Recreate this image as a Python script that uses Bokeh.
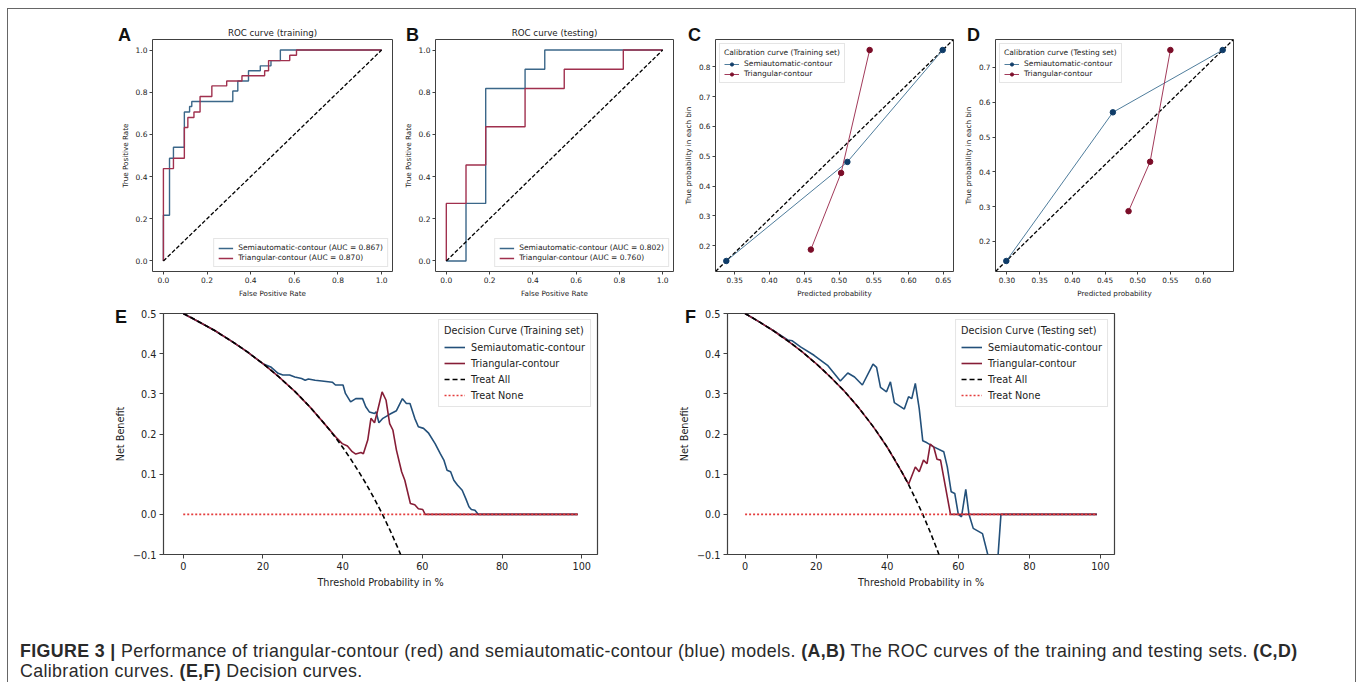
from bokeh.plotting import figure
from bokeh.layouts import row, column
from bokeh.models import Range1d, FixedTicker, Legend, LegendItem, Div
from bokeh.embed import file_html
from bokeh.resources import INLINE

# ---------------- data ----------------
model_names = ["Semiautomatic-contour", "Triangular-contour"]

# ROC, training set (A)
roc_train_semi_fpr = [0, 0, 0.028, 0.028, 0.046, 0.046, 0.096, 0.096, 0.12, 0.12, 0.13, 0.13,
                      0.318, 0.318, 0.341, 0.341, 0.39, 0.39, 0.444, 0.444, 0.493, 0.493, 0.536, 0.536, 1.0]
roc_train_semi_tpr = [0, 0.217, 0.217, 0.487, 0.487, 0.539, 0.539, 0.706, 0.706, 0.732, 0.732, 0.756,
                      0.756, 0.806, 0.806, 0.853, 0.853, 0.902, 0.902, 0.925, 0.925, 0.95, 0.95, 1.0, 1.0]
roc_train_tri_fpr = [0, 0, 0.046, 0.046, 0.096, 0.096, 0.112, 0.112, 0.14, 0.14, 0.168, 0.168, 0.222, 0.222,
                     0.29, 0.29, 0.36, 0.36, 0.464, 0.464, 0.482, 0.482, 0.579, 0.579, 0.61, 0.61, 1.0]
roc_train_tri_tpr = [0, 0.438, 0.438, 0.487, 0.487, 0.633, 0.633, 0.68, 0.68, 0.706, 0.706, 0.78, 0.78, 0.83,
                     0.83, 0.853, 0.853, 0.878, 0.878, 0.902, 0.902, 0.95, 0.95, 0.975, 0.975, 1.0, 1.0]
auc_train = [0.867, 0.870]

# ROC, testing set (B)
roc_test_semi_fpr = [0, 0.091, 0.091, 0.182, 0.182, 0.364, 0.364, 0.455, 0.455, 1.0]
roc_test_semi_tpr = [0, 0, 0.273, 0.273, 0.818, 0.818, 0.909, 0.909, 1.0, 1.0]
roc_test_tri_fpr = [0, 0, 0.091, 0.091, 0.182, 0.182, 0.364, 0.364, 0.545, 0.545, 0.818, 0.818, 1.0]
roc_test_tri_tpr = [0, 0.273, 0.273, 0.455, 0.455, 0.636, 0.636, 0.818, 0.818, 0.909, 0.909, 1.0, 1.0]
auc_test = [0.802, 0.760]

# Calibration curves (C training, D testing)
cal_train_semi_x = [0.338, 0.512, 0.649]
cal_train_semi_y = [0.149, 0.481, 0.856]
cal_train_tri_x = [0.4595, 0.503, 0.544]
cal_train_tri_y = [0.187, 0.444, 0.856]
cal_test_semi_x = [0.299, 0.462, 0.630]
cal_test_semi_y = [0.144, 0.571, 0.750]
cal_test_tri_x = [0.486, 0.519, 0.550]
cal_test_tri_y = [0.287, 0.429, 0.750]

# Decision curves (threshold %, net benefit)
treat_all_thr = [0, 2, 4, 6, 8, 10, 12, 14, 16, 18, 20, 22, 24, 26, 28, 30, 32, 34, 36, 38, 40,
                 42, 44, 46, 48, 50, 52, 54, 55]
treat_all_nb = [0.5, 0.49, 0.479, 0.468, 0.457, 0.444, 0.432, 0.419, 0.405, 0.39, 0.375, 0.359, 0.342,
                0.324, 0.306, 0.286, 0.265, 0.242, 0.219, 0.194, 0.167, 0.138, 0.107, 0.074, 0.038, 0.0,
                -0.042, -0.087, -0.111]
treat_none_thr = [0, 99]
treat_none_nb = [0.0, 0.0]

dca_train_semi_thr = [0, 4, 8, 12, 16, 20, 22.1, 23.8, 25.0, 26.7, 28.0, 29.7, 30.6, 31.4, 33.1, 34.8,
                      37.4, 38.2, 40.1, 40.7, 42.0, 43.3, 45.0, 45.8, 46.7, 48.0, 48.4, 49.1, 50.1, 51.8,
                      53.5, 55.0, 56.0, 56.9, 58.1, 59.0, 60.3, 61.5, 63.2, 64.5, 65.4, 66.2, 67.1, 67.9,
                      68.8, 70.0, 70.9, 71.7, 72.3, 73.2, 74.0, 99]
dca_train_semi_nb = [0.5, 0.479, 0.457, 0.432, 0.405, 0.375, 0.366, 0.351, 0.347, 0.347, 0.342, 0.338,
                     0.334, 0.337, 0.334, 0.332, 0.329, 0.322, 0.322, 0.301, 0.28, 0.288, 0.288, 0.268,
                     0.255, 0.251, 0.255, 0.228, 0.239, 0.249, 0.258, 0.288, 0.276, 0.276, 0.239, 0.218,
                     0.214, 0.203, 0.176, 0.151, 0.135, 0.11, 0.106, 0.085, 0.073, 0.06, 0.039, 0.019,
                     0.012, 0.01, 0.0, 0.0]
dca_train_tri_thr = [0, 4, 8, 12, 16, 20, 24, 28, 32, 36, 38.6, 39.9, 41.2, 42.4, 43.3, 44.6, 45.2, 46.3,
                     47.1, 48.0, 48.8, 49.9, 50.9, 51.8, 52.6, 53.5, 54.8, 55.6, 56.2, 57.0, 58.1, 59.0,
                     60.1, 60.7, 99]
dca_train_tri_nb = [0.5, 0.479, 0.457, 0.432, 0.405, 0.375, 0.342, 0.306, 0.265, 0.219, 0.189, 0.176,
                    0.17, 0.156, 0.15, 0.154, 0.151, 0.185, 0.239, 0.228, 0.259, 0.305, 0.284, 0.226,
                    0.21, 0.16, 0.106, 0.085, 0.06, 0.027, 0.024, 0.014, 0.012, 0.0, 0.0]
dca_test_semi_thr = [0, 4, 8, 12.0, 13.3, 15.6, 19.4, 23.2, 26.8, 28.9, 30.8, 33.0, 36.0, 37.0, 38.1,
                     39.8, 40.9, 42.0, 44.8, 46.0, 46.9, 47.9, 49.0, 50.0, 51.2, 53.1, 55.9, 56.9, 58.0,
                     59.0, 60.0, 60.9, 62.1, 63.0, 64.2, 66.8, 69.0, 71.0, 72.0, 99]
dca_test_semi_nb = [0.5, 0.479, 0.457, 0.434, 0.432, 0.417, 0.396, 0.371, 0.332, 0.352, 0.342, 0.322,
                    0.374, 0.366, 0.316, 0.305, 0.33, 0.278, 0.262, 0.293, 0.288, 0.326, 0.263, 0.183,
                    0.178, 0.168, 0.156, 0.118, 0.056, 0.052, 0.0, -0.006, 0.062, 0.0, -0.035, -0.048,
                    -0.125, -0.125, 0.0, 0.0]
dca_test_tri_thr = [0, 4, 8, 12, 16, 20, 24, 28, 32, 36, 40, 44, 46.0, 47.9, 49.0, 50.2, 51.2, 52.1,
                    53.1, 54.0, 55.0, 57.8, 99]
dca_test_tri_nb = [0.5, 0.479, 0.457, 0.432, 0.405, 0.375, 0.342, 0.306, 0.265, 0.219, 0.167, 0.107,
                   0.075, 0.118, 0.106, 0.135, 0.126, 0.175, 0.167, 0.137, 0.135, 0.0, 0.0]

# ticks
roc_ticks = [0.0, 0.2, 0.4, 0.6, 0.8, 1.0]
roc_tick_labels = ["0.0", "0.2", "0.4", "0.6", "0.8", "1.0"]
cal_train_xticks = [0.35, 0.40, 0.45, 0.50, 0.55, 0.60, 0.65]
cal_train_xlabels = ["0.35", "0.40", "0.45", "0.50", "0.55", "0.60", "0.65"]
cal_train_yticks = [0.2, 0.3, 0.4, 0.5, 0.6, 0.7, 0.8]
cal_train_ylabels = ["0.2", "0.3", "0.4", "0.5", "0.6", "0.7", "0.8"]
cal_test_xticks = [0.30, 0.35, 0.40, 0.45, 0.50, 0.55, 0.60]
cal_test_xlabels = ["0.30", "0.35", "0.40", "0.45", "0.50", "0.55", "0.60"]
cal_test_yticks = [0.2, 0.3, 0.4, 0.5, 0.6, 0.7]
cal_test_ylabels = ["0.2", "0.3", "0.4", "0.5", "0.6", "0.7"]
dca_xticks = [0, 20, 40, 60, 80, 100]
dca_xlabels = ["0", "20", "40", "60", "80", "100"]
dca_yticks = [-0.1, 0.0, 0.1, 0.2, 0.3, 0.4, 0.5]
dca_ylabels = ["\u22120.1", "0.0", "0.1", "0.2", "0.3", "0.4", "0.5"]

panel_letters = ["A", "B", "C", "D", "E", "F"]

# ---------------- style ----------------
FONT = "DejaVu Sans"
FRAME = "#404040"
TXT = "#222222"
ROC_BLUE, ROC_RED = "#3b6789", "#a0304e"
CAL_BLUE_L, CAL_BLUE_M = "#4f7d9c", "#0f3c68"
CAL_RED_L, CAL_RED_M = "#a23a5a", "#7b0d28"
DCA_BLUE, DCA_RED = "#23507a", "#861d36"
TREAT_NONE = "#e43d3d"


def pad_range(vals, frac=0.05):
    lo, hi = min(vals), max(vals)
    d = (hi - lo) * frac
    return (lo - d, hi + d)


def make_panel(width, height, borders, xr, yr, xt, xl, yt, yl, xlabel, ylabel,
               tick_fs, label_fs, tick_len, tick_standoff, label_standoff, frame_w=1):
    left, right, top, bottom = borders
    p = figure(width=width, height=height, x_range=Range1d(*xr), y_range=Range1d(*yr),
               output_backend="svg", toolbar_location=None,
               min_border_left=left, min_border_right=right,
               min_border_top=top, min_border_bottom=bottom)
    p.xgrid.visible = False
    p.ygrid.visible = False
    p.outline_line_color = FRAME
    p.outline_line_width = frame_w
    p.outline_line_alpha = 1.0
    for ax, ticks, labels, name in ((p.xaxis[0], xt, xl, xlabel), (p.yaxis[0], yt, yl, ylabel)):
        ax.ticker = FixedTicker(ticks=ticks)
        ax.major_label_overrides = dict(zip(ticks, labels))
        ax.axis_line_color = None
        ax.major_tick_out = tick_len
        ax.major_tick_in = 0
        ax.minor_tick_out = 0
        ax.minor_tick_in = 0
        ax.major_tick_line_color = FRAME
        ax.major_label_text_font = FONT
        ax.major_label_text_font_size = tick_fs
        ax.major_label_text_color = TXT
        ax.major_label_standoff = tick_standoff
        ax.axis_label = name
        ax.axis_label_text_font = FONT
        ax.axis_label_text_font_size = label_fs
        ax.axis_label_text_font_style = "normal"
        ax.axis_label_text_color = TXT
        ax.axis_label_standoff = label_standoff
    return p


def small_legend(items, loc, title=None):
    leg = Legend(items=items, location=loc, margin=4, padding=4, spacing=1,
                 label_text_font=FONT, label_text_font_size="7.5px", label_text_color=TXT,
                 label_height=8, glyph_height=8, glyph_width=15, label_standoff=5,
                 border_line_color="#cccccc", border_line_width=1,
                 background_fill_alpha=0.85)
    if title:
        leg.title = title
        leg.title_text_font = FONT
        leg.title_text_font_size = "7.5px"
        leg.title_text_font_style = "normal"
        leg.title_text_color = TXT
        leg.title_standoff = 2
    return leg


ROW1_H = 291
R1_TOP, R1_BOT = 30, 28


def roc_panel(width, borders, title, fpr_s, tpr_s, fpr_t, tpr_t, aucs):
    p = make_panel(width, ROW1_H, borders, (-0.05, 1.05), (-0.05, 1.05),
                   roc_ticks, roc_tick_labels, roc_ticks, roc_tick_labels,
                   "False Positive Rate", "True Positive Rate", "7.5px", "7.2px", 3, 2, 3)
    p.title.text = title
    p.title.text_font = FONT
    p.title.text_font_size = "8.7px"
    p.title.text_font_style = "normal"
    p.title.text_color = TXT
    p.title.align = "center"
    p.title.standoff = 3
    r1 = p.line(fpr_s, tpr_s, line_color=ROC_BLUE, line_width=1.4)
    r2 = p.line(fpr_t, tpr_t, line_color=ROC_RED, line_width=1.4)
    p.line([roc_ticks[0], roc_ticks[-1]], [roc_ticks[0], roc_ticks[-1]],
           line_color="black", line_width=1.3, line_dash="4 2")
    items = [LegendItem(label=f"{model_names[0]} (AUC = {aucs[0]:.3f})", renderers=[r1]),
             LegendItem(label=f"{model_names[1]} (AUC = {aucs[1]:.3f})", renderers=[r2])]
    p.add_layout(small_legend(items, "bottom_right"))
    return p


def cal_panel(width, borders, title, sx, sy, tx, ty, xt, xl, yt, yl):
    xr = pad_range(sx + tx)
    yr = pad_range(sy + ty)
    p = make_panel(width, ROW1_H, borders, xr, yr, xt, xl, yt, yl,
                   "Predicted probability", "True probability in each bin", "7.3px", "7.2px", 3, 2, 3)
    p.line([xr[0], xr[1]], [yr[0], yr[1]], line_color="black", line_width=1.3, line_dash="4 2")
    l1 = p.line(sx, sy, line_color=CAL_BLUE_L, line_width=1)
    m1 = p.scatter(sx, sy, size=5.5, fill_color=CAL_BLUE_M, line_color=CAL_BLUE_M)
    l2 = p.line(tx, ty, line_color=CAL_RED_L, line_width=1)
    m2 = p.scatter(tx, ty, size=5.5, fill_color=CAL_RED_M, line_color=CAL_RED_M)
    items = [LegendItem(label=model_names[0], renderers=[l1, m1]),
             LegendItem(label=model_names[1], renderers=[l2, m2])]
    p.add_layout(small_legend(items, "top_left", title))
    return p


ROW2_H = 296


def dca_panel(width, borders, title, s_thr, s_nb, t_thr, t_nb):
    p = make_panel(width, ROW2_H, borders, (-4.95, 103.95), (-0.1, 0.5),
                   dca_xticks, dca_xlabels, dca_yticks, dca_ylabels,
                   "Threshold Probability in %", "Net Benefit", "9.7px", "9.7px", 4, 3, 4,
                   frame_w=1.2)
    r1 = p.line(s_thr, s_nb, line_color=DCA_BLUE, line_width=1.6)
    r2 = p.line(t_thr, t_nb, line_color=DCA_RED, line_width=1.6)
    r3 = p.line(treat_all_thr, treat_all_nb, line_color="black", line_width=1.6, line_dash="5 3")
    r4 = p.line(treat_none_thr, treat_none_nb, line_color=TREAT_NONE, line_width=1.6, line_dash="2 2")
    items = [LegendItem(label=model_names[0], renderers=[r1]),
             LegendItem(label=model_names[1], renderers=[r2]),
             LegendItem(label="Treat All", renderers=[r3]),
             LegendItem(label="Treat None", renderers=[r4])]
    leg = Legend(items=items, location="top_right", margin=6, padding=5, spacing=4,
                 label_text_font=FONT, label_text_font_size="9.7px", label_text_color=TXT,
                 label_height=12, glyph_height=12, glyph_width=21, label_standoff=6,
                 border_line_color="#cccccc", border_line_width=1, background_fill_alpha=0.85,
                 title=title, title_text_font=FONT, title_text_font_size="9.7px",
                 title_text_font_style="normal", title_text_color=TXT, title_standoff=5)
    p.add_layout(leg)
    return p


# ---------------- panels ----------------
pA = roc_panel(392, (144, 8, R1_TOP, R1_BOT), "ROC curve (training)",
               roc_train_semi_fpr, roc_train_semi_tpr, roc_train_tri_fpr, roc_train_tri_tpr, auc_train)
pB = roc_panel(280, (33, 7, R1_TOP, R1_BOT), "ROC curve (testing)",
               roc_test_semi_fpr, roc_test_semi_tpr, roc_test_tri_fpr, roc_test_tri_tpr, auc_test)
pC = cal_panel(280, (33, 7, R1_TOP, R1_BOT), "Calibration curve (Training set)",
               cal_train_semi_x, cal_train_semi_y, cal_train_tri_x, cal_train_tri_y,
               cal_train_xticks, cal_train_xlabels, cal_train_yticks, cal_train_ylabels)
pD = cal_panel(395, (33, 122, R1_TOP, R1_BOT), "Calibration curve (Testing set)",
               cal_test_semi_x, cal_test_semi_y, cal_test_tri_x, cal_test_tri_y,
               cal_test_xticks, cal_test_xlabels, cal_test_yticks, cal_test_ylabels)

pE = dca_panel(642, (155, 53, 13, 42), "Decision Curve (Training set)",
               dca_train_semi_thr, dca_train_semi_nb, dca_train_tri_thr, dca_train_tri_nb)
pF = dca_panel(705, (77, 241, 13, 42), "Decision Curve (Testing set)",
               dca_test_semi_thr, dca_test_semi_nb, dca_test_tri_thr, dca_test_tri_nb)

# ---------------- caption block (also carries the panel letters) ----------------
CAP_X0, CAP_Y0 = 8, 9 + ROW1_H + ROW2_H      # page position of the caption block
CAP_H = 86
# page position (left, cap-top) of each panel letter, measured on the reference
letter_pos = [(118, 28), (406, 28), (688, 28), (967, 28), (115, 310), (685, 310)]

letter_html = "".join(
    f'<span style="position:absolute; left:{x - CAP_X0}px; top:{y - 2.4 - CAP_Y0:.1f}px; '
    f"font-family:'Liberation Sans', Arial, sans-serif; font-weight:bold; font-size:18px; "
    f'line-height:18px; color:#111;">{t}</span>'
    for t, (x, y) in zip(panel_letters, letter_pos)
)

caption_html = (
    f'<div style="position:relative; width:1347px; height:{CAP_H}px; margin:0; padding:0;">'
    + letter_html +
    '<div style="position:absolute; left:12px; top:45px; '
    "font-family:'Liberation Sans', Arial, sans-serif; font-size:17.8px; line-height:20px; "
    'letter-spacing:0.37px; color:#2a2a2a; white-space:nowrap;">'
    '<b>FIGURE 3 |</b> Performance of triangular-contour (red) and semiautomatic-contour (blue) models. '
    '<b>(A,B)</b> The ROC curves of the training and testing sets. <b>(C,D)</b><br>'
    'Calibration curves. <b>(E,F)</b> Decision curves.</div></div>'
)
caption = Div(text=caption_html, width=1347, height=CAP_H, margin=0)

layout = column(row(pA, pB, pC, pD), row(pE, pF), caption,
                styles={"margin-top": "8px", "margin-left": "7px",
                        "border-top": "1px solid #666666", "border-left": "1px solid #666666",
                        "border-right": "1px solid #666666"})

open("out.html", "w").write(file_html(layout, INLINE))
